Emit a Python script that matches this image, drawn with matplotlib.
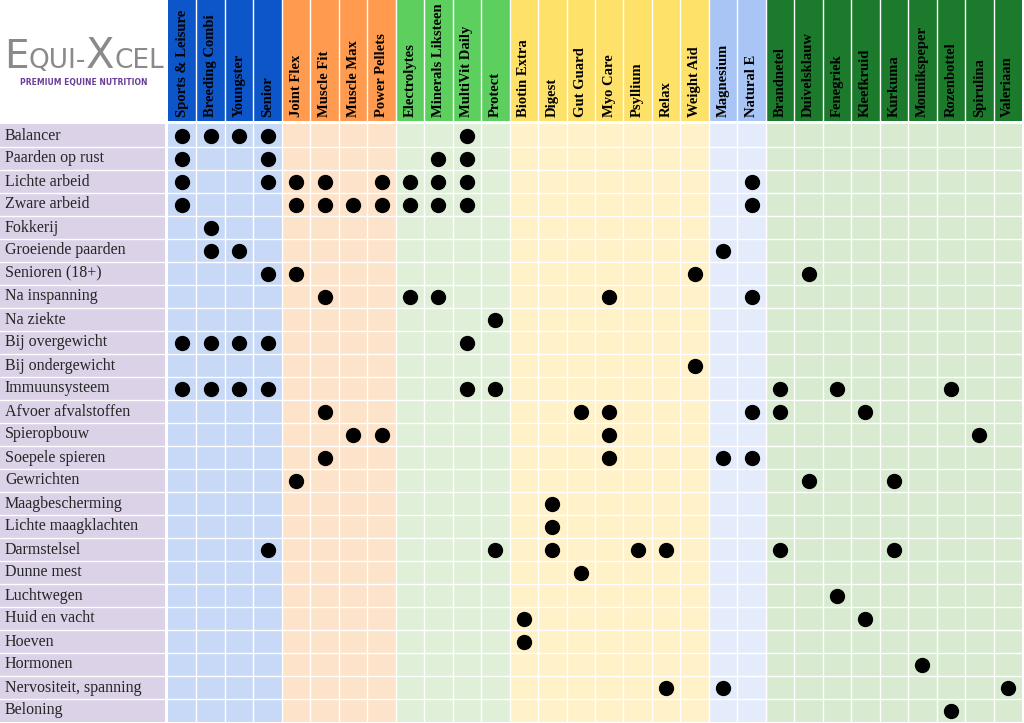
import numpy as np
import matplotlib.pyplot as plt

# product columns, grouped by header colour
groups = ['basis', 'sport', 'vitamine', 'specifiek', 'mineraal', 'kruiden']
group_products = [
    ['Sports & Leisure', 'Breeding Combi', 'Youngster', 'Senior'],
    ['Joint Flex', 'Muscle Fit', 'Muscle Max', 'Power Pellets'],
    ['Electrolytes', 'Minerals Liksteen', 'MultiVit Daily', 'Protect'],
    ['Biotin Extra', 'Digest', 'Gut Guard', 'Myo Care', 'Psyllium', 'Relax', 'Weight Aid'],
    ['Magnesium', 'Natural E'],
    ['Brandnetel', 'Duivelsklauw', 'Fenegriek', 'Kleefkruid', 'Kurkuma',
     'Monnikspeper', 'Rozenbottel', 'Spirulina', 'Valeriaan'],
]
header_colors = ['#0c56c9', '#ff9a4f', '#5ccf5e', '#fee169', '#a8c5f5', '#1b7a2b']
body_colors = ['#c7d9f6', '#fde3ca', '#dfefd8', '#fff1c8', '#e4ecfb', '#d8eacf']

uses = ['Balancer', 'Paarden op rust', 'Lichte arbeid', 'Zware arbeid', 'Fokkerij',
        'Groeiende paarden', 'Senioren (18+)', 'Na inspanning', 'Na ziekte',
        'Bij overgewicht', 'Bij ondergewicht', 'Immuunsysteem', 'Afvoer afvalstoffen',
        'Spieropbouw', 'Soepele spieren', 'Gewrichten', 'Maagbescherming',
        'Lichte maagklachten', 'Darmstelsel', 'Dunne mest', 'Luchtwegen',
        'Huid en vacht', 'Hoeven', 'Hormonen', 'Nervositeit, spanning', 'Beloning']

advice = {
    'Balancer': ['Sports & Leisure', 'Breeding Combi', 'Youngster', 'Senior', 'MultiVit Daily'],
    'Paarden op rust': ['Sports & Leisure', 'Senior', 'Minerals Liksteen', 'MultiVit Daily'],
    'Lichte arbeid': ['Sports & Leisure', 'Senior', 'Joint Flex', 'Muscle Fit', 'Power Pellets',
                      'Electrolytes', 'Minerals Liksteen', 'MultiVit Daily', 'Natural E'],
    'Zware arbeid': ['Sports & Leisure', 'Joint Flex', 'Muscle Fit', 'Muscle Max', 'Power Pellets',
                     'Electrolytes', 'Minerals Liksteen', 'MultiVit Daily', 'Natural E'],
    'Fokkerij': ['Breeding Combi'],
    'Groeiende paarden': ['Breeding Combi', 'Youngster', 'Magnesium'],
    'Senioren (18+)': ['Senior', 'Joint Flex', 'Weight Aid', 'Duivelsklauw'],
    'Na inspanning': ['Muscle Fit', 'Electrolytes', 'Minerals Liksteen', 'Myo Care', 'Natural E'],
    'Na ziekte': ['Protect'],
    'Bij overgewicht': ['Sports & Leisure', 'Breeding Combi', 'Youngster', 'Senior', 'MultiVit Daily'],
    'Bij ondergewicht': ['Weight Aid'],
    'Immuunsysteem': ['Sports & Leisure', 'Breeding Combi', 'Youngster', 'Senior', 'MultiVit Daily',
                      'Protect', 'Brandnetel', 'Fenegriek', 'Rozenbottel'],
    'Afvoer afvalstoffen': ['Muscle Fit', 'Gut Guard', 'Myo Care', 'Natural E', 'Brandnetel', 'Kleefkruid'],
    'Spieropbouw': ['Muscle Max', 'Power Pellets', 'Myo Care', 'Spirulina'],
    'Soepele spieren': ['Muscle Fit', 'Myo Care', 'Magnesium', 'Natural E'],
    'Gewrichten': ['Joint Flex', 'Duivelsklauw', 'Kurkuma'],
    'Maagbescherming': ['Digest'],
    'Lichte maagklachten': ['Digest'],
    'Darmstelsel': ['Senior', 'Protect', 'Digest', 'Psyllium', 'Relax', 'Brandnetel', 'Kurkuma'],
    'Dunne mest': ['Gut Guard'],
    'Luchtwegen': ['Fenegriek'],
    'Huid en vacht': ['Biotin Extra', 'Kleefkruid'],
    'Hoeven': ['Biotin Extra'],
    'Hormonen': ['Monnikspeper'],
    'Nervositeit, spanning': ['Relax', 'Magnesium', 'Valeriaan'],
    'Beloning': ['Rozenbottel'],
}

products = [p for g in group_products for p in g]
n_cols, n_rows = len(products), len(uses)

W, H = 1024, 723
fig = plt.figure(figsize=(W / 100, H / 100), dpi=100)
fig.patch.set_facecolor('white')

x0, x1 = 168 / W, 1022 / W
body_top, body_bot = 1 - 124 / H, 1 - 722 / H
head_bot = 1 - 121 / H

ax = fig.add_axes([x0, body_bot, x1 - x0, body_top - body_bot])
head = fig.add_axes([x0, head_bot, x1 - x0, 1 - head_bot])
lab = fig.add_axes([0, body_bot, 165 / W, body_top - body_bot])

# column background + header per group
start = 0
for g, prods in enumerate(group_products):
    idx = np.arange(start, start + len(prods))
    ax.bar(idx, n_rows, bottom=-0.5, width=1.0, color=body_colors[g], linewidth=0)
    head.bar(idx, 1, width=1.0, color=header_colors[g], linewidth=0)
    start += len(prods)

for i, p in enumerate(products):
    head.text(i, 0.03, p, rotation=90, ha='center', va='bottom', fontsize=10.5,
              fontweight='bold', family='Liberation Serif', color='black')

# white grid lines
for i in range(1, n_cols):
    ax.axvline(i - 0.5, color='white', lw=1.0)
    head.axvline(i - 0.5, color='white', lw=1.0)
for j in range(1, n_rows):
    ax.axhline(j - 0.5, color='white', lw=1.0)
    lab.axhline(j - 0.5, color='white', lw=1.0)

# dots
xs, ys = [], []
for j, u in enumerate(uses):
    for p in advice[u]:
        xs.append(products.index(p))
        ys.append(j)
ax.plot(xs, ys, 'o', color='black', markersize=10)

# row labels
lab.set_facecolor('#dbd2e8')
for j, u in enumerate(uses):
    lab.text(0.03, j, u, ha='left', va='center', fontsize=11.5,
             family='Liberation Serif', color='#262626', transform=lab.get_yaxis_transform())

for a in (ax, lab):
    a.set_ylim(n_rows - 0.5, -0.5)
for a in (ax, head):
    a.set_xlim(-0.5, n_cols - 0.5)
head.set_ylim(0, 1)
lab.set_xlim(0, 1)
for a in (ax, head, lab):
    a.set_xticks([])
    a.set_yticks([])
    for s in a.spines.values():
        s.set_visible(False)

# logo
logo_parts = [('E', 4, 28), ('QUI-', 29, 19), ('X', 86, 30), ('CEL', 114, 19)]
for txt, px, fs in logo_parts:
    fig.text(px / W, 1 - 68 / H, txt, fontsize=fs, color='#8a8a8a', va='baseline',
             ha='left', family='DejaVu Sans', fontweight='normal')
fig.text(84 / W, 1 - 82 / H, 'PREMIUM EQUINE NUTRITION', fontsize=5.5, color='#6a3d9a',
         va='center', ha='center', family='DejaVu Sans', fontweight='bold')

fig.savefig('out.png', dpi=100)
